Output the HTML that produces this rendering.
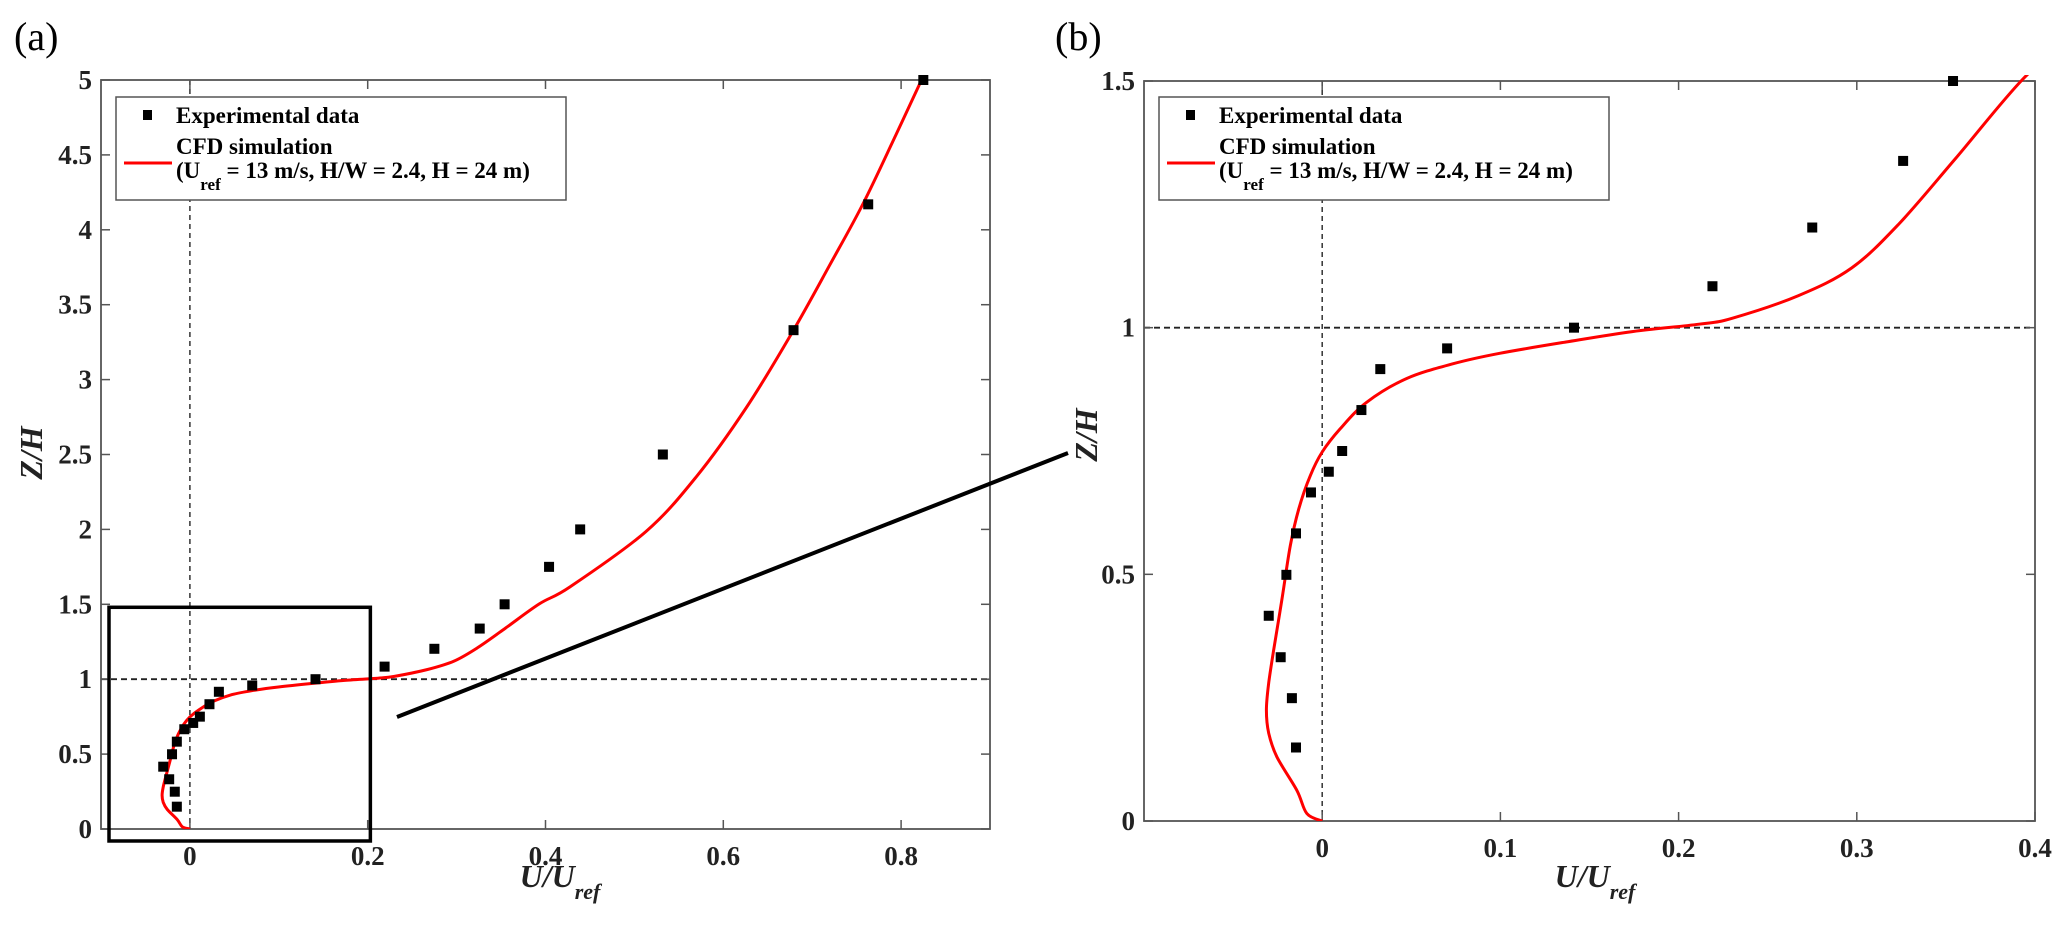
<!DOCTYPE html>
<html><head><meta charset="utf-8">
<style>
html,body{margin:0;padding:0;background:#fff;}
svg{display:block;font-family:"Liberation Serif",serif;}
</style></head>
<body>
<svg id="fig" width="2067" height="925" viewBox="0 0 2067 925" xmlns="http://www.w3.org/2000/svg">
<text x="14" y="50" font-size="40">(a)</text>
<text x="1055" y="50" font-size="40">(b)</text>
<g id="pa"></g>
<g id="pb"></g>
</svg>
<script>
const expU = [-0.0147,-0.0170,-0.0233,-0.0300,-0.0201,-0.0147,-0.0063,0.0037,0.0112,0.0220,0.0326,0.0701,0.1413,0.219,0.275,0.326,0.354,0.404,0.439,0.532,0.679,0.763,0.825];
const expZ = [0.149,0.249,0.332,0.416,0.499,0.583,0.666,0.708,0.750,0.833,0.916,0.958,1.0,1.084,1.203,1.338,1.5,1.75,2.0,2.5,3.33,4.17,5.0];
const cfdU = [0,-0.0086,-0.0142,-0.0254,-0.030,-0.0313,-0.030,-0.0272,-0.0226,-0.0179,-0.0132,-0.0067,0,0.0101,0.025,0.0474,0.0735,0.0996,0.1368,0.174,0.2114,0.230,0.2673,0.2971,0.3233,0.355,0.393,0.428,0.513,0.570,0.626,0.678,0.719,0.757,0.794,0.823];
const cfdZ = [0,0.015,0.062,0.130,0.178,0.225,0.280,0.347,0.449,0.558,0.632,0.700,0.748,0.795,0.849,0.897,0.927,0.948,0.971,0.992,1.007,1.019,1.065,1.121,1.209,1.341,1.503,1.618,1.986,2.354,2.814,3.32,3.757,4.172,4.632,5.0];
const ticksXA = [0,0.2,0.4,0.6,0.8];
const ticksYA = [0,0.5,1,1.5,2,2.5,3,3.5,4,4.5,5];
const ticksXB = [0,0.1,0.2,0.3,0.4];
const ticksYB = [0,0.5,1,1.5];

const NS="http://www.w3.org/2000/svg";
function mk(p,tag,attrs){const e=document.createElementNS(NS,tag);for(const k in attrs)e.setAttribute(k,attrs[k]);p.appendChild(e);return e;}
function smooth(pts){
  let d='M'+pts[0][0].toFixed(1)+','+pts[0][1].toFixed(1);
  for(let i=0;i<pts.length-1;i++){
    const p0=pts[Math.max(i-1,0)],p1=pts[i],p2=pts[i+1],p3=pts[Math.min(i+2,pts.length-1)];
    const c1=[p1[0]+(p2[0]-p0[0])/6,p1[1]+(p2[1]-p0[1])/6];
    const c2=[p2[0]-(p3[0]-p1[0])/6,p2[1]-(p3[1]-p1[1])/6];
    d+='C'+c1[0].toFixed(1)+','+c1[1].toFixed(1)+' '+c2[0].toFixed(1)+','+c2[1].toFixed(1)+' '+p2[0].toFixed(1)+','+p2[1].toFixed(1);
  }
  return d;
}

function panel(g,cfg,id){
  const sx=u=>cfg.x0+(u-cfg.xmin)/(cfg.xmax-cfg.xmin)*(cfg.x1-cfg.x0);
  const sy=z=>cfg.y1-(z-cfg.ymin)/(cfg.ymax-cfg.ymin)*(cfg.y1-cfg.y0);
  const cp=mk(g,'clipPath',{id:'clip'+id});
  mk(cp,'rect',{x:cfg.x0,y:cfg.y0-6,width:cfg.x1-cfg.x0+6,height:cfg.y1-cfg.y0+6});
  let l=mk(g,'line',{x1:sx(0),x2:sx(0),y1:cfg.y0,y2:cfg.y1,stroke:'#333','stroke-width':1.5,'stroke-dasharray':'5,4'});
  
  
  l=mk(g,'line',{x1:cfg.x0,x2:cfg.x1,y1:sy(1),y2:sy(1),stroke:'#222','stroke-width':1.8,'stroke-dasharray':'6,4'});
  
  
  const b=mk(g,'rect',{x:cfg.x0,y:cfg.y0,width:cfg.x1-cfg.x0,height:cfg.y1-cfg.y0,fill:'none',stroke:'#555','stroke-width':1.8});
  
  
  cfg.tx.forEach(v=>{
    const x=sx(v);
    mk(g,'line',{x1:x,x2:x,y1:cfg.y1,y2:cfg.y1-9,stroke:'#555','stroke-width':1.5});
    mk(g,'line',{x1:x,x2:x,y1:cfg.y0,y2:cfg.y0+9,stroke:'#555','stroke-width':1.5});
    const t=mk(g,'text',{x:x,y:cfg.y1+36,'font-size':27,'font-weight':'bold','text-anchor':'middle',fill:'#222'});
    t.textContent=String(v);
    
    
  });
  cfg.ty.forEach(v=>{
    const y=sy(v);
    mk(g,'line',{x1:cfg.x0,x2:cfg.x0+9,y1:y,y2:y,stroke:'#555','stroke-width':1.5});
    mk(g,'line',{x1:cfg.x1,x2:cfg.x1-9,y1:y,y2:y,stroke:'#555','stroke-width':1.5});
    const t=mk(g,'text',{x:cfg.x0-9,y:y+9,'font-size':27,'font-weight':'bold','text-anchor':'end',fill:'#222'});
    t.textContent=String(v);
    
    
  });
  const dg=mk(g,'g',{'clip-path':'url(#clip'+id+')'});
  const pts=cfdU.map((u,i)=>[sx(u),sy(cfdZ[i])]);
  const p=mk(dg,'path',{d:smooth(pts),fill:'none',stroke:'#f00','stroke-width':3,'stroke-linejoin':'round'});
  
  
  expU.forEach((u,i)=>{
    if(expZ[i]>cfg.ymax+0.01)return;
    const r=mk(dg,'rect',{x:sx(u)-5,y:sy(expZ[i])-5,width:10,height:10,fill:'#000'});
    
    
  });
  const lg=mk(g,'g',{});
  
  
  const lx=cfg.x0+15, ly=97;
  mk(lg,'rect',{x:lx,y:ly,width:450,height:103,fill:'#fff',stroke:'#555','stroke-width':1.5});
  mk(lg,'rect',{x:lx+27,y:ly+13,width:9,height:10,fill:'#000'});
  mk(lg,'line',{x1:lx+8,x2:lx+56,y1:ly+66,y2:ly+66,stroke:'#f00','stroke-width':3});
  let t=mk(lg,'text',{x:lx+60,y:ly+26,'font-size':23,'font-weight':'bold'});t.textContent='Experimental data';
  
  
  t=mk(lg,'text',{x:lx+60,y:ly+57,'font-size':23,'font-weight':'bold'});t.textContent='CFD simulation';
  
  
  t=mk(lg,'text',{x:lx+60,y:ly+81,'font-size':23,'font-weight':'bold'});
  t.innerHTML='(U<tspan font-size="17" dy="12">ref</tspan><tspan dy="-12"> = 13 m/s, H/W = 2.4, H = 24 m)</tspan>';
  
  
  const xt=mk(g,'text',{x:cfg.xtx,y:887,'font-size':32,'font-weight':'bold','font-style':'italic','text-anchor':'middle',fill:'#222'});
  xt.innerHTML='U/U<tspan font-size="22" dy="12">ref</tspan>';
  
  
  const yt=mk(g,'text',{x:0,y:0,'font-size':32,'font-weight':'bold','font-style':'italic','text-anchor':'middle',fill:'#222',transform:`translate(${cfg.ytx},${cfg.yty}) rotate(-90)`});
  yt.textContent='Z/H';
  
  
  return {sx,sy};
}
const A=panel(document.getElementById('pa'),{x0:101,x1:990,y0:80,y1:829,xmin:-0.1,xmax:0.9,ymin:0,ymax:5,tx:ticksXA,ty:ticksYA,xtx:560,ytx:42,yty:453},'a');
panel(document.getElementById('pb'),{x0:1144,x1:2035,y0:81,y1:821,xmin:-0.1,xmax:0.4,ymin:0,ymax:1.5,tx:ticksXB,ty:ticksYB,xtx:1595,ytx:1097,yty:435},'b');
const svg=document.getElementById('fig');
const zr=mk(svg,'rect',{x:A.sx(-0.091),y:A.sy(1.48),width:A.sx(0.203)-A.sx(-0.091),height:A.sy(-0.08)-A.sy(1.48),fill:'none',stroke:'#000','stroke-width':3.5});


const cl=mk(svg,'line',{x1:397,y1:717,x2:1068,y2:453,stroke:'#000','stroke-width':4});


</script>
</body></html>
